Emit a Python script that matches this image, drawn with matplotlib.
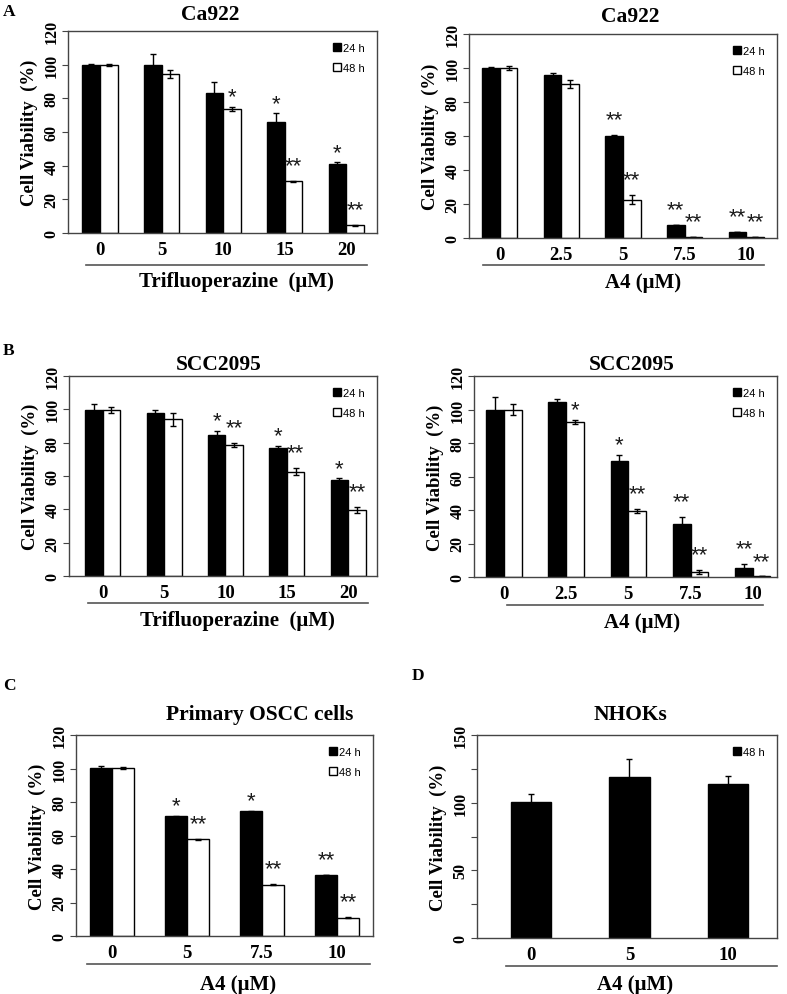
import matplotlib
matplotlib.use("Agg")
import matplotlib.pyplot as plt
from matplotlib.lines import Line2D
import numpy as np

# ---------------- data ----------------
tfp_doses = ["0", "5", "10", "15", "20"]
a4_doses = ["0", "2.5", "5", "7.5", "10"]
a4_doses_c = ["0", "5", "7.5", "10"]
a4_doses_d = ["0", "5", "10"]

# Panel A left: Ca922, Trifluoperazine
a1_24 = [100, 100, 83.3, 65.9, 40.7]
a1_24_err = [0.5, 6.5, 6.3, 5.1, 1.5]
a1_48 = [100, 94.3, 73.8, 30.6, 4.6]
a1_48_err = [0.5, 2.4, 1.2, 0.3, 0.3]
a1_sig24 = ["", "", "", "*", "*"]
a1_sig48 = ["", "", "*", "**", "**"]

# Panel A right: Ca922, A4
a2_24 = [100.2, 95.8, 60.1, 7.7, 3.7]
a2_24_err = [0.6, 1.5, 0.3, 0.0, 0.0]
a2_48 = [100, 90.5, 22.6, 0.6, 0.6]
a2_48_err = [1.2, 2.4, 2.7, 0.0, 0.0]
a2_sig24 = ["", "", "**", "**", "**"]
a2_sig48 = ["", "", "**", "**", "**"]

# Panel B left: SCC2095, Trifluoperazine
b1_24 = [99.7, 97.7, 84.5, 77.1, 57.8]
b1_24_err = [3.4, 2.0, 2.6, 1.0, 0.8]
b1_48 = [99.7, 94.1, 78.5, 62.6, 39.5]
b1_48_err = [1.8, 3.8, 1.2, 2.0, 1.7]
b1_sig24 = ["", "", "*", "*", "*"]
b1_sig48 = ["", "", "**", "**", "**"]

# Panel B right: SCC2095, A4
b2_24 = [99.8, 104.4, 69.1, 31.9, 5.4]
b2_24_err = [7.6, 2.0, 3.8, 4.2, 2.4]
b2_48 = [100, 92.5, 39.5, 3.0, 0.3]
b2_48_err = [3.4, 1.4, 1.2, 1.0, 0.0]
b2_sig24 = ["", "", "*", "**", "**"]
b2_sig48 = ["", "*", "**", "**", "**"]

# Panel C: Primary OSCC cells, A4
c_24 = [100.3, 71.6, 74.5, 36.7]
c_24_err = [1.0, 0.3, 0.3, 0.0]
c_48 = [100.3, 57.8, 30.7, 11.0]
c_48_err = [0.5, 0.3, 0.5, 0.5]
c_sig24 = ["", "*", "*", "**"]
c_sig48 = ["", "**", "**", "**"]

# Panel D: NHOKs, A4 (48 h only)
d_48 = [100.3, 119.3, 113.8]
d_48_err = [6.1, 13.0, 5.9]

# ---------------- style ----------------
W, H = 787, 995
fig = plt.figure(figsize=(W / 100, H / 100), dpi=100)
SERIF = "Liberation Serif"
SANS = "Liberation Sans"
SPINE = "#444444"


def px_rect(x0, y0, x1, y1):
    return [x0 / W, 1 - y1 / H, (x1 - x0) / W, (y1 - y0) / H]


def fig_text(x, y, s, **kw):
    fig.text(x / W, 1 - y / H, s, **kw)


def style_axes(ax, ymax, ystep, minor=None):
    ax.set_ylim(0, ymax)
    ax.set_yticks(np.arange(0, ymax + 0.1, ystep))
    if minor is not None:
        ax.set_yticks(np.arange(0, ymax + 0.1, minor), minor=True)
        ax.tick_params(axis="y", which="minor", length=4, width=0.8,
                       color=SPINE, direction="out")
    for lab in ax.get_yticklabels():
        lab.set_rotation(90)
        lab.set_va("center")
        lab.set_fontfamily(SERIF)
        lab.set_fontweight("bold")
        lab.set_fontsize(11.5)
    ax.tick_params(axis="y", length=4, width=0.8, color=SPINE, pad=2,
                   direction="out")
    ax.tick_params(axis="x", length=0, pad=6)
    for s in ax.spines.values():
        s.set_color(SPINE)
        s.set_linewidth(1.0)
    ax.set_ylabel("Cell Viability  (%)", fontfamily=SERIF, fontweight="bold",
                  fontsize=13.5, labelpad=4)


def underline(x0px, x1px, ypx, label, lab_ypx, lab_xpx):
    fig.add_artist(Line2D([x0px / W, x1px / W], [1 - ypx / H, 1 - ypx / H],
                          transform=fig.transFigure, color="#555555", lw=1.2))
    fig_text(lab_xpx, lab_ypx, label, ha="center", va="center",
             fontfamily=SERIF, fontweight="bold", fontsize=15)


def add_stars(ax, xs, tops, sigs):
    for x, t, s in zip(xs, tops, sigs):
        if s:
            off = 7 if len(s) == 1 else 11
            ax.annotate(s, (x, t), xytext=(0, off),
                        textcoords="offset points", ha="center", va="center",
                        fontfamily=SANS, fontsize=16, color="#1a1a1a")


def legend_squares(ax, labels, faces):
    handles = [Line2D([], [], marker="s", ls="none", markersize=5.5,
                      markerfacecolor=f, markeredgecolor="black", label=l)
               for l, f in zip(labels, faces)]
    ax.legend(handles=handles, loc="upper right", frameon=False,
              prop={"family": SANS, "size": 8}, handletextpad=0.1,
              handlelength=0.8, labelspacing=0.9, borderaxespad=0.7)


def paired(ax, labels, v24, e24, v48, e48, s24, s48, xlim, width=0.285):
    x = np.arange(len(labels))
    ekw = dict(ecolor="black", elinewidth=1.0, capsize=2.5, capthick=1.0)
    ax.bar(x - width / 2, v24, width, yerr=e24, color="black",
           edgecolor="black", linewidth=1.0, error_kw=ekw, zorder=2)
    ax.bar(x + width / 2, v48, width, yerr=e48, color="white",
           edgecolor="black", linewidth=1.0, error_kw=ekw, zorder=2)
    ax.set_xticks(x)
    ax.set_xticklabels(labels, fontfamily=SERIF, fontweight="bold",
                       fontsize=13.5)
    ax.set_xlim(*xlim)
    add_stars(ax, x - width / 2, np.array(v24) + np.array(e24), s24)
    add_stars(ax, x + width / 2, np.array(v48) + np.array(e48), s48)
    legend_squares(ax, ["24 h", "48 h"], ["black", "white"])


def title(x, y, s):
    fig_text(x, y, s, ha="center", va="center", fontfamily=SERIF,
             fontweight="bold", fontsize=15.5)


def letter(x, y, s):
    fig_text(x, y, s, ha="left", va="center", fontfamily=SERIF,
             fontweight="bold", fontsize=12.5)


# ---------- Panel A left ----------
ax = fig.add_axes(px_rect(68, 32, 377, 234))
paired(ax, tfp_doses, a1_24, a1_24_err, a1_48, a1_48_err, a1_sig24, a1_sig48,
       (-0.52, 4.5))
style_axes(ax, 120, 20)
title(210, 15, "Ca922")
underline(86, 367, 266, "Trifluoperazine  (\u03bcM)", 282, 236)
letter(3, 12, "A")

# ---------- Panel A right ----------
ax = fig.add_axes(px_rect(469, 35, 777, 239))
paired(ax, a4_doses, a2_24, a2_24_err, a2_48, a2_48_err, a2_sig24, a2_sig48,
       (-0.5, 4.5))
style_axes(ax, 120, 20)
title(630, 17, "Ca922")
underline(483, 764, 266, "A4 (\u03bcM)", 283, 643)

# ---------- Panel B left ----------
ax = fig.add_axes(px_rect(69, 377, 377, 577))
paired(ax, tfp_doses, b1_24, b1_24_err, b1_48, b1_48_err, b1_sig24, b1_sig48,
       (-0.55, 4.47))
style_axes(ax, 120, 20)
title(219, 365, "SCC2095")
underline(88, 368, 604, "Trifluoperazine  (\u03bcM)", 621, 237)
letter(3, 351, "B")

# ---------- Panel B right ----------
ax = fig.add_axes(px_rect(474, 377, 777, 578))
paired(ax, a4_doses, b2_24, b2_24_err, b2_48, b2_48_err, b2_sig24, b2_sig48,
       (-0.48, 4.39))
style_axes(ax, 120, 20)
title(632, 365, "SCC2095")
underline(507, 763, 606, "A4 (\u03bcM)", 623, 642)

# ---------- Panel C ----------
ax = fig.add_axes(px_rect(76, 736, 373, 937))
paired(ax, a4_doses_c, c_24, c_24_err, c_48, c_48_err, c_sig24, c_sig48,
       (-0.48, 3.48), width=0.29)
style_axes(ax, 120, 20)
title(260, 715, "Primary OSCC cells")
underline(87, 370, 965, "A4 (\u03bcM)", 985, 238)
letter(3, 686, "C")

# ---------- Panel D ----------
ax = fig.add_axes(px_rect(477, 736, 777, 939))
xd = np.arange(len(a4_doses_d))
ax.bar(xd, d_48, 0.41, yerr=d_48_err, color="black", edgecolor="black",
       linewidth=1.0,
       error_kw=dict(ecolor="black", elinewidth=1.0, capsize=2.5, capthick=1.0))
ax.set_xticks(xd)
ax.set_xticklabels(a4_doses_d, fontfamily=SERIF, fontweight="bold",
                   fontsize=13.5)
ax.set_xlim(-0.55, 2.5)
style_axes(ax, 150, 50, minor=25)
legend_squares(ax, ["48 h"], ["black"])
title(630, 715, "NHOKs")
underline(506, 777, 967, "A4 (\u03bcM)", 985, 635)
letter(412, 676, "D")

fig.savefig("out.png", dpi=100, facecolor="white")
